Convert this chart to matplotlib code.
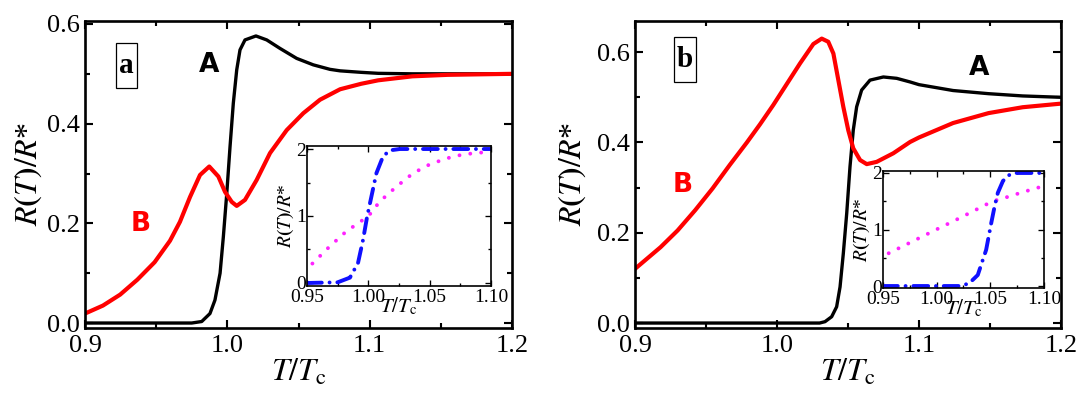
import matplotlib
matplotlib.use('Agg')
import matplotlib.pyplot as plt
from matplotlib.ticker import MultipleLocator, FormatStrFormatter
from matplotlib.patches import Rectangle

plt.rcParams['font.family'] = ['Liberation Serif', 'DejaVu Serif']
plt.rcParams['mathtext.fontset'] = 'stix'

# panel a, main curves
a_A_x = [0.90, 0.95, 0.975, 0.982, 0.9878, 0.9913, 0.9949, 0.9972, 0.9996, 1.0019,
         1.0042, 1.0066, 1.0089, 1.0124, 1.0201, 1.0277, 1.037, 1.0487, 1.0604,
         1.0721, 1.0792, 1.094, 1.106, 1.13, 1.16, 1.2]
a_A_y = [0.0, 0.0, 0.0, 0.003, 0.019, 0.046, 0.100, 0.173, 0.260, 0.354,
         0.441, 0.508, 0.548, 0.568, 0.576, 0.568, 0.551, 0.531, 0.518,
         0.509, 0.506, 0.503, 0.501, 0.5, 0.5, 0.5]
a_B_x = [0.90, 0.9126, 0.9247, 0.9368, 0.9489, 0.9597, 0.9667, 0.9738, 0.9808, 0.9873,
         0.9937, 0.9984, 1.0031, 1.0066, 1.0124, 1.0206, 1.030, 1.0417, 1.0534,
         1.0651, 1.0792, 1.094, 1.106, 1.130, 1.155, 1.2]
a_B_y = [0.019, 0.035, 0.057, 0.087, 0.122, 0.165, 0.203, 0.253, 0.297, 0.314,
         0.294, 0.263, 0.243, 0.235, 0.247, 0.287, 0.341, 0.387, 0.421,
         0.448, 0.469, 0.480, 0.487, 0.495, 0.498, 0.5]

# panel b, main curves
b_A_x = [0.90, 1.00, 1.030, 1.0338, 1.0385, 1.042, 1.0444, 1.0467, 1.0491, 1.0514,
         1.0537, 1.0561, 1.0596, 1.0655, 1.0749, 1.0843, 1.0937, 1.10, 1.124,
         1.149, 1.173, 1.2]
b_A_y = [0.0, 0.0, 0.0, 0.003, 0.014, 0.036, 0.080, 0.154, 0.243, 0.346,
         0.427, 0.479, 0.516, 0.538, 0.545, 0.542, 0.534, 0.528, 0.515,
         0.508, 0.503, 0.500]
b_B_x = [0.90, 0.918, 0.930, 0.9424, 0.9546, 0.9667, 0.9788, 0.988, 0.9974, 1.0068,
         1.0162, 1.0256, 1.0315, 1.0361, 1.0397, 1.0432, 1.0467, 1.0502, 1.0537,
         1.0585, 1.0632, 1.0702, 1.0819, 1.0937, 1.100, 1.124, 1.149, 1.173, 1.2]
b_B_y = [0.120, 0.168, 0.205, 0.250, 0.298, 0.350, 0.400, 0.440, 0.483, 0.529,
         0.575, 0.618, 0.630, 0.623, 0.597, 0.538, 0.479, 0.427, 0.387,
         0.361, 0.352, 0.357, 0.376, 0.401, 0.411, 0.443, 0.465, 0.478, 0.486]

# insets
a_in_blue_x = [0.95, 0.975, 0.985, 0.9916, 0.9957, 0.999, 1.0025, 1.0066, 1.012, 1.0175, 1.0257, 1.10]
a_in_blue_y = [0.0, 0.01, 0.08, 0.30, 0.645, 0.99, 1.29, 1.64, 1.89, 1.98, 2.0, 2.0]
a_in_mag_x = [0.9544, 0.9685, 0.982, 0.9957, 1.001, 1.0093, 1.023, 1.0366, 1.05, 1.0638, 1.0774, 1.099]
a_in_mag_y = [0.29, 0.546, 0.77, 0.943, 1.02, 1.216, 1.44, 1.64, 1.77, 1.86, 1.92, 1.96]

b_in_blue_x = [0.95, 1.0226, 1.0304, 1.0383, 1.0461, 1.0508, 1.054, 1.057, 1.0618, 1.068, 1.0743, 1.10]
b_in_blue_y = [0.0, 0.0, 0.05, 0.195, 0.64, 1.11, 1.41, 1.65, 1.86, 1.97, 2.0, 2.0]
b_in_mag_x = [0.9553, 0.971, 0.9866, 1.0023, 1.018, 1.0336, 1.049, 1.0586, 1.065, 1.080, 1.0962]
b_in_mag_y = [0.58, 0.728, 0.876, 1.024, 1.17, 1.32, 1.47, 1.54, 1.57, 1.66, 1.75]

YLABEL = r'$R\mathbf{(}T\mathbf{)}/R$*'
XLABEL = r'$T/T_{\rm c}$'

W, H = 1080, 398
fig = plt.figure(figsize=(W / 100, H / 100), dpi=100)


def px_axes(x0, y0, x1, y1):
    return fig.add_axes([x0 / W, 1 - y1 / H, (x1 - x0) / W, (y1 - y0) / H])


def style(ax, lw, size, length):
    for s in ax.spines.values():
        s.set_linewidth(lw)
    ax.tick_params(which='both', direction='in', top=True, right=True,
                   width=lw * 0.8, labelsize=size)
    ax.tick_params(which='major', length=length)
    ax.tick_params(which='minor', length=length * 0.6)


def main_panel(box, ylim, Ax, Ay, Bx, By, letter, letter_box, ylab_x, pos_A, pos_B):
    ax = px_axes(*box)
    ax.plot(Ax, Ay, color='black', lw=2.4, solid_joinstyle='round')
    ax.plot(Bx, By, color='red', lw=3.0, solid_joinstyle='round')
    ax.set_xlim(0.9, 1.2)
    ax.set_ylim(*ylim)
    ax.xaxis.set_major_locator(MultipleLocator(0.1))
    ax.xaxis.set_minor_locator(MultipleLocator(0.05))
    ax.yaxis.set_major_locator(MultipleLocator(0.2))
    ax.yaxis.set_minor_locator(MultipleLocator(0.1))
    ax.xaxis.set_major_formatter(FormatStrFormatter('%.1f'))
    ax.yaxis.set_major_formatter(FormatStrFormatter('%.1f'))
    style(ax, 1.9, 19, 6)
    ax.tick_params(axis='x', pad=5)
    ax.set_xlabel(XLABEL, fontsize=23)
    ax.xaxis.set_label_coords(0.5, -0.095)
    ax.set_ylabel(YLABEL, fontsize=23)
    ax.yaxis.set_label_coords(ylab_x, 0.5)
    bx, by, bw, bh = letter_box
    ax.add_patch(Rectangle((bx, by), bw, bh, transform=ax.transAxes,
                           fill=False, ec='black', lw=0.9))
    ax.text(bx + bw / 2, by + bh / 2, letter, transform=ax.transAxes, fontsize=21,
            fontweight='bold', ha='center', va='center')
    ax.text(*pos_A, 'A', fontsize=19, fontweight='bold', family='DejaVu Sans',
            color='black', ha='center', va='center')
    ax.text(*pos_B, 'B', fontsize=19, fontweight='bold', family='DejaVu Sans',
            color='red', ha='center', va='center')
    return ax


def inset(box, ylim, bx, by, mx, my):
    ax = px_axes(*box)
    ax.plot(mx, my, color='#ff22ff', lw=2.8, linestyle=(0, (0.01, 2.8)),
            dash_capstyle='round')
    ax.plot(bx, by, color='#1010ff', lw=2.8, linestyle=(0, (3.8, 2.0, 0.01, 2.0)),
            dash_capstyle='round')
    ax.set_xlim(0.95, 1.10)
    ax.set_ylim(*ylim)
    ax.xaxis.set_major_locator(MultipleLocator(0.05))
    ax.xaxis.set_minor_locator(MultipleLocator(0.025))
    ax.yaxis.set_major_locator(MultipleLocator(1))
    ax.yaxis.set_minor_locator(MultipleLocator(0.5))
    ax.xaxis.set_major_formatter(FormatStrFormatter('%.2f'))
    style(ax, 1.2, 14, 4)
    ax.tick_params(axis='x', pad=2)
    ax.tick_params(axis='y', pad=1)
    ax.set_xlabel(XLABEL, fontsize=15, labelpad=-7)
    ax.set_ylabel(YLABEL, fontsize=14, labelpad=0)
    return ax


main_panel((85, 21, 512, 328), (-0.010, 0.606), a_A_x, a_A_y, a_B_x, a_B_y,
           'a', (0.0726, 0.782, 0.049, 0.147), -0.096, (0.9873, 0.518), (0.939, 0.199))
main_panel((635, 21, 1061, 328), (-0.011, 0.669), b_A_x, b_A_y, b_B_x, b_B_y,
           'b', (0.0915, 0.801, 0.0516, 0.147), -0.110, (1.1423, 0.564), (0.9337, 0.305))
inset((307, 146, 491, 286), (-0.045, 2.045), a_in_blue_x, a_in_blue_y, a_in_mag_x, a_in_mag_y)
inset((883, 171, 1044, 288), (-0.035, 2.035), b_in_blue_x, b_in_blue_y, b_in_mag_x, b_in_mag_y)

fig.savefig('out.png', dpi=100)
